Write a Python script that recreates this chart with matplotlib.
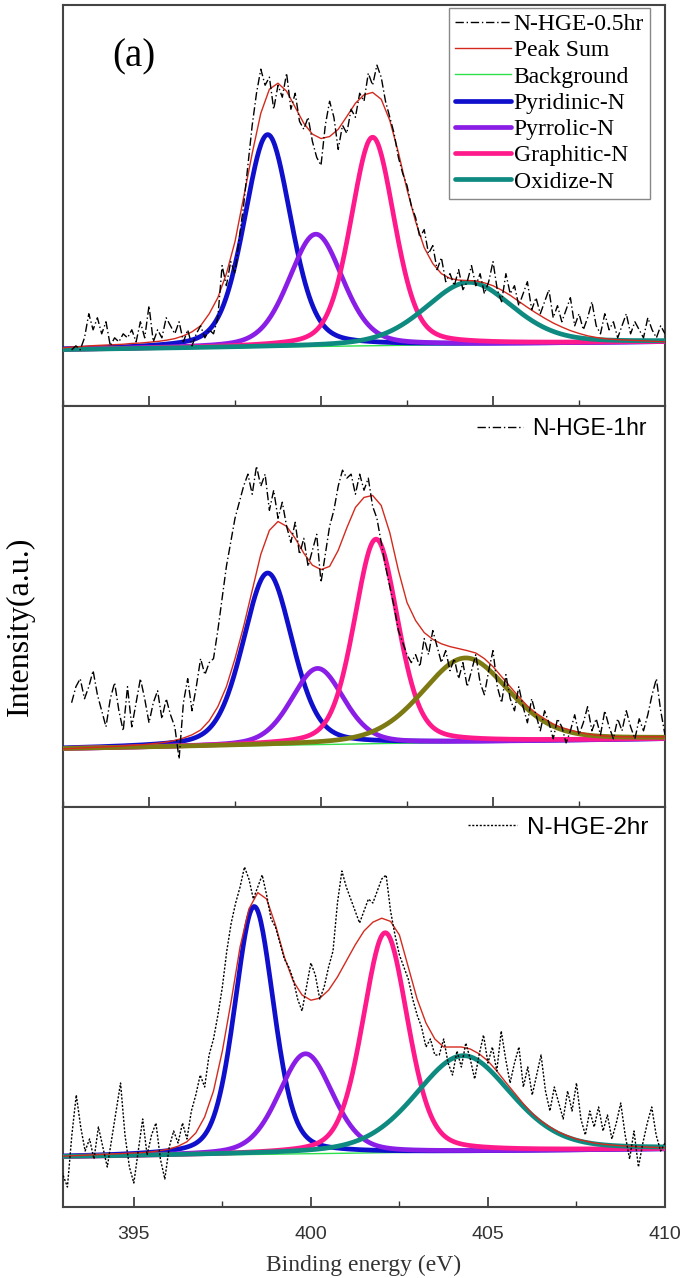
import numpy
import matplotlib as mpl
mpl.use('Agg')
import matplotlib.pyplot as plt
from matplotlib.ticker import MultipleLocator

#
#--- binding energy grid of the measured spectra (eV)
#
energy = [392.75 + 0.125 * i for i in range(139)]
#
#--- measured spectra (a.u.), read off the picture
#
spec_05hr = [0.14, 0.15,
    0.14, 0.17, 0.23, 0.19, 0.22, 0.18, 0.21, 0.15, 0.17, 0.16, 0.18, 0.17, 0.19, 0.16, 0.21, 0.17,
    0.25, 0.16, 0.19, 0.17, 0.22, 0.20, 0.18, 0.21, 0.16, 0.19, 0.15, 0.18, 0.20, 0.17, 0.19, 0.18,
    0.22, 0.35, 0.30, 0.36, 0.33, 0.42, 0.50, 0.60, 0.70, 0.78, 0.84, 0.80, 0.82, 0.74, 0.80, 0.77,
    0.83, 0.74, 0.78, 0.71, 0.69, 0.72, 0.66, 0.62, 0.60, 0.70, 0.76, 0.72, 0.64, 0.70, 0.68, 0.74,
    0.72, 0.78, 0.76, 0.83, 0.80, 0.85, 0.82, 0.76, 0.72, 0.68, 0.62, 0.58, 0.55, 0.50, 0.47, 0.42,
    0.44, 0.38, 0.40, 0.34, 0.37, 0.31, 0.33, 0.30, 0.34, 0.29, 0.31, 0.35, 0.30, 0.33, 0.28, 0.31,
    0.36, 0.29, 0.26, 0.33, 0.28, 0.30, 0.25, 0.28, 0.31, 0.24, 0.27, 0.23, 0.26, 0.29, 0.22, 0.25,
    0.21, 0.24, 0.27, 0.20, 0.23, 0.19, 0.22, 0.26, 0.20, 0.18, 0.23, 0.19, 0.21, 0.17, 0.20, 0.23,
    0.18, 0.21, 0.19, 0.17, 0.22, 0.19, 0.17, 0.20, 0.18]

spec_1hr = [
    0.26, 0.30, 0.32, 0.27, 0.30, 0.34, 0.28, 0.24, 0.20, 0.27, 0.31, 0.24, 0.19, 0.30, 0.20, 0.26,
    0.32, 0.27, 0.21, 0.26, 0.29, 0.22, 0.27, 0.23, 0.20, 0.12, 0.26, 0.32, 0.24, 0.30, 0.37, 0.33,
    0.36, 0.37, 0.44, 0.52, 0.60, 0.66, 0.72, 0.76, 0.80, 0.83, 0.78, 0.85, 0.80, 0.83, 0.74, 0.79,
    0.72, 0.76, 0.70, 0.66, 0.71, 0.63, 0.67, 0.60, 0.64, 0.68, 0.56, 0.63, 0.70, 0.74, 0.80, 0.84,
    0.82, 0.83, 0.78, 0.83, 0.79, 0.82, 0.75, 0.72, 0.66, 0.60, 0.55, 0.50, 0.44, 0.41, 0.38, 0.36,
    0.38, 0.35, 0.42, 0.38, 0.44, 0.40, 0.36, 0.39, 0.34, 0.37, 0.32, 0.36, 0.30, 0.34, 0.38, 0.31,
    0.28, 0.34, 0.39, 0.30, 0.26, 0.33, 0.27, 0.24, 0.30, 0.25, 0.21, 0.27, 0.23, 0.19, 0.24, 0.21,
    0.17, 0.22, 0.20, 0.16, 0.19, 0.23, 0.18, 0.21, 0.25, 0.19, 0.22, 0.18, 0.24, 0.20, 0.17, 0.22,
    0.19, 0.24, 0.20, 0.17, 0.22, 0.19, 0.23, 0.28, 0.32, 0.24, 0.18]

spec_2hr = [
    0.10, 0.12, 0.08, 0.05, 0.18, 0.28, 0.20, 0.14, 0.17, 0.12, 0.20, 0.15, 0.10, 0.17, 0.24, 0.31,
    0.18, 0.10, 0.06, 0.14, 0.22, 0.13, 0.18, 0.21, 0.12, 0.07, 0.15, 0.19, 0.16, 0.21, 0.17, 0.24,
    0.28, 0.33, 0.30, 0.38, 0.42, 0.48, 0.55, 0.64, 0.71, 0.76, 0.80, 0.85, 0.82, 0.77, 0.80, 0.83,
    0.78, 0.72, 0.70, 0.66, 0.62, 0.60, 0.57, 0.52, 0.49, 0.55, 0.61, 0.58, 0.52, 0.55, 0.60, 0.64,
    0.76, 0.84, 0.80, 0.77, 0.74, 0.71, 0.74, 0.77, 0.76, 0.79, 0.82, 0.83, 0.74, 0.68, 0.63, 0.60,
    0.57, 0.52, 0.48, 0.45, 0.40, 0.42, 0.38, 0.38, 0.42, 0.36, 0.33, 0.39, 0.35, 0.41, 0.37, 0.32,
    0.38, 0.43, 0.36, 0.40, 0.34, 0.44, 0.37, 0.31, 0.36, 0.40, 0.30, 0.35, 0.28, 0.33, 0.38, 0.29,
    0.24, 0.30, 0.26, 0.22, 0.29, 0.24, 0.31, 0.22, 0.18, 0.24, 0.20, 0.25, 0.19, 0.23, 0.17, 0.21,
    0.26, 0.18, 0.12, 0.19, 0.10, 0.16, 0.21, 0.25, 0.18, 0.14, 0.16]
#
#--- peak sum envelopes as drawn (a.u.), read every 0.25 eV
#
sum_energy = [392.5 + 0.25 * i for i in range(71)]

sum_05hr = [
    0.145, 0.147, 0.148, 0.150, 0.151, 0.152, 0.153, 0.154, 0.156, 0.157,
    0.159, 0.161, 0.164, 0.168, 0.175, 0.185, 0.200, 0.230, 0.270, 0.330,
    0.410, 0.520, 0.630, 0.730, 0.790, 0.805, 0.785, 0.745, 0.705, 0.678,
    0.667, 0.672, 0.690, 0.722, 0.755, 0.776, 0.782, 0.765, 0.712, 0.632,
    0.540, 0.460, 0.395, 0.355, 0.330, 0.318, 0.314, 0.313, 0.312, 0.307,
    0.300, 0.289, 0.276, 0.261, 0.246, 0.232, 0.219, 0.207, 0.197, 0.188,
    0.181, 0.175, 0.171, 0.168, 0.166, 0.165, 0.164, 0.163, 0.162, 0.161,
    0.160]

sum_1hr = [
    0.145, 0.146, 0.147, 0.148, 0.149, 0.150, 0.151, 0.152, 0.154, 0.155,
    0.157, 0.159, 0.162, 0.166, 0.172, 0.180, 0.192, 0.215, 0.250, 0.300,
    0.370, 0.450, 0.540, 0.630, 0.690, 0.712, 0.700, 0.670, 0.633, 0.603,
    0.592, 0.600, 0.640, 0.696, 0.747, 0.772, 0.777, 0.752, 0.684, 0.590,
    0.510, 0.465, 0.435, 0.418, 0.407, 0.400, 0.395, 0.390, 0.384, 0.370,
    0.350, 0.325, 0.300, 0.275, 0.252, 0.234, 0.220, 0.207, 0.198, 0.192,
    0.186, 0.182, 0.179, 0.177, 0.176, 0.175, 0.175, 0.175, 0.175, 0.175,
    0.175]

sum_2hr = [
    0.125, 0.126, 0.127, 0.128, 0.129, 0.130, 0.131, 0.132, 0.133, 0.134,
    0.135, 0.136, 0.138, 0.141, 0.145, 0.152, 0.163, 0.185, 0.225, 0.290,
    0.390, 0.515, 0.650, 0.745, 0.786, 0.770, 0.705, 0.625, 0.565, 0.530,
    0.517, 0.522, 0.542, 0.575, 0.615, 0.655, 0.690, 0.712, 0.722, 0.714,
    0.680, 0.600, 0.520, 0.460, 0.420, 0.400, 0.400, 0.400, 0.395, 0.383,
    0.365, 0.340, 0.312, 0.285, 0.258, 0.234, 0.215, 0.200, 0.187, 0.178,
    0.170, 0.165, 0.160, 0.157, 0.155, 0.153, 0.152, 0.151, 0.150, 0.149,
    0.148]
#
#--- fitted components: centre (eV), height above background, fwhm (eV)
#
comp_names  = ['Pyridinic-N', 'Pyrrolic-N', 'Graphitic-N', 'Oxidize-N']

center_05hr = [398.45, 399.85, 401.50, 404.30]
height_05hr = [0.53, 0.28, 0.52, 0.155]
fwhm_05hr   = [1.60, 1.85, 1.50, 3.00]
bg_05hr     = [0.14, 0.16]

center_1hr  = [398.45, 399.90, 401.60, 404.20]
height_1hr  = [0.43, 0.19, 0.51, 0.21]
fwhm_1hr    = [1.70, 1.80, 1.50, 3.00]
bg_1hr      = [0.145, 0.17]

center_2hr  = [398.40, 399.85, 402.10, 404.30]
height_2hr  = [0.62, 0.25, 0.55, 0.24]
fwhm_2hr    = [1.30, 1.80, 1.50, 3.20]
bg_2hr      = [0.125, 0.145]

labels      = ['N-HGE-0.5hr', 'N-HGE-1hr', 'N-HGE-2hr']
xlims       = [(392.5, 410.0), (392.5, 410.0), (393.0, 410.0)]

#----------------------------------------------------------------------------------------------
#-- peak_shape: pseudo-voigt peak used by the fit                                            --
#----------------------------------------------------------------------------------------------

def peak_shape(x, cen, amp, fwhm, eta=0.3):
    """
    input:  x, cen, amp, fwhm
    output: peak profile
    """
    gau = numpy.exp(-4.0 * numpy.log(2.0) * ((x - cen) / fwhm) ** 2)
    lor = 1.0 / (1.0 + (2.0 * (x - cen) / fwhm) ** 2)
    return amp * ((1.0 - eta) * gau + eta * lor)

#----------------------------------------------------------------------------------------------
#-- plot_panel: plot one spectrum with its fitted components                                 --
#----------------------------------------------------------------------------------------------

def plot_panel(ax, spec, psum, cen, amp, fwhm, bg, label, xlim, ccolors, dstyle, full_legend, anchor, lsize):

    x = numpy.linspace(xlim[0], xlim[1], 600)
    base = bg[0] + (bg[1] - bg[0]) * (x - xlim[0]) / (xlim[1] - xlim[0])

    lines = []
    dline, = ax.plot(energy, spec, color='black', ls=dstyle, lw=1.0, zorder=5, label=label)
    sline, = ax.plot(sum_energy, psum, color='#d42a1e', lw=1.0, zorder=4, label='Peak Sum')
    bline, = ax.plot(x, base, color='#2ee04a', lw=1.0, zorder=2, label='Background')
    lines += [dline, sline, bline]

    for k in range(4):
        yk = base + peak_shape(x, cen[k], amp[k], fwhm[k])
        cl, = ax.plot(x, yk, color=ccolors[k], lw=3.4, zorder=3,
                      solid_capstyle='round', label=comp_names[k])
        lines.append(cl)

    ax.set_xlim(xlim)
    ax.set_ylim(0, 1)
    ax.set_yticks([])
    ax.xaxis.set_major_locator(MultipleLocator(5))
    ax.xaxis.set_minor_locator(MultipleLocator(2.5))
    ax.tick_params(axis='x', which='major', direction='in', length=7, width=1.2, color='#333333')
    ax.tick_params(axis='x', which='minor', direction='in', length=4, width=1.0, color='#333333')
    for sp in ax.spines.values():
        sp.set_color('#444444')
        sp.set_linewidth(1.5)

    if full_legend:
        leg = ax.legend(handles=lines, loc='upper right', bbox_to_anchor=anchor,
                        prop={'family': 'Liberation Serif', 'size': lsize},
                        fancybox=False, edgecolor='#888888', framealpha=1.0, labelspacing=0.2,
                        handlelength=2.4, handletextpad=0.1, borderpad=0.25, borderaxespad=0.0)
        leg.get_frame().set_linewidth(1.0)
    else:
        ax.legend(handles=[dline], loc='upper right', bbox_to_anchor=anchor,
                  prop={'family': 'Liberation Sans', 'size': lsize},
                  frameon=False, handlelength=2.0, handletextpad=0.4, borderaxespad=0.0)

#----------------------------------------------------------------------------------------------

fig = plt.figure(figsize=(6.89, 12.78), dpi=100)

left  = 63.0 / 689
width = 602.0 / 689
ax1 = fig.add_axes([left, 872.0 / 1278, width, 401.0 / 1278])
ax2 = fig.add_axes([left, 471.0 / 1278, width, 401.0 / 1278])
ax3 = fig.add_axes([left, 71.0 / 1278, width, 400.0 / 1278])

teal  = ['#1010cc', '#8a1ee6', '#ff1a8c', '#0e8a80']
olive = ['#1010cc', '#8a1ee6', '#ff1a8c', '#7d7a14']
dashdot = (0, (6, 2, 1, 2))
dotted  = (0, (1.5, 1.2))

plot_panel(ax1, spec_05hr, sum_05hr, center_05hr, height_05hr, fwhm_05hr, bg_05hr, labels[0],
           xlims[0], teal, dashdot, True, (0.975, 0.993), 17)
plot_panel(ax2, spec_1hr, sum_1hr, center_1hr, height_1hr, fwhm_1hr, bg_1hr, labels[1],
           xlims[1], olive, dashdot, False, (0.985, 0.995), 16.5)
plot_panel(ax3, spec_2hr, sum_2hr, center_2hr, height_2hr, fwhm_2hr, bg_2hr, labels[2],
           xlims[2], teal, dotted, False, (0.988, 1.0), 17.5)

ax1.set_xticklabels([])
ax2.set_xticklabels([])
for t in ax3.get_xticklabels():
    t.set_fontfamily('Liberation Sans')
    t.set_fontsize(14)
    t.set_color('#333333')
ax3.tick_params(axis='x', which='major', pad=14)

ax3.set_xlabel('Binding energy (eV)', family='Liberation Serif', fontsize=17, color='#333333', labelpad=8)

ax1.text(0.117, 0.87, '(a)', transform=ax1.transAxes, family='Liberation Serif', fontsize=28, ha='center', va='center')

fig.text(0.03, 0.51, 'Intensity(a.u.)', rotation=90, family='Liberation Serif', fontsize=23,
         ha='center', va='center')

plt.savefig('out.png', dpi=100)
plt.close('all')
